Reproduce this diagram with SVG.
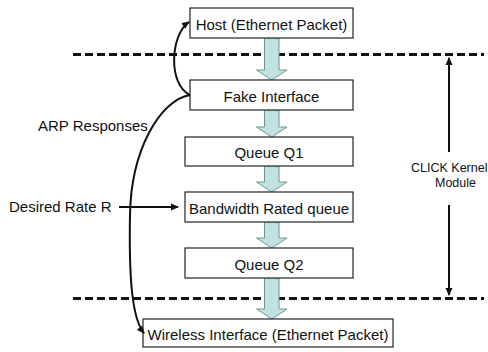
<svg xmlns="http://www.w3.org/2000/svg" width="488" height="352" viewBox="0 0 488 352">
  <defs>
    <style>
      .box { fill: #ffffff; stroke: #222222; stroke-width: 1.2; }
      .lbl { font-family: "Liberation Sans", Arial, sans-serif; font-size: 15px; fill: #111111; }
      .small { font-size: 12.5px; }
      .mid { text-anchor: middle; }
      .flow { fill: #c2e1e0; stroke: #6c9795; stroke-width: 1; }
      .dash { stroke: #111111; stroke-width: 3; stroke-dasharray: 8 4; fill: none; }
      .wire { stroke: #111111; stroke-width: 2; fill: none; }
    </style>
    <marker id="head" markerWidth="8" markerHeight="8" refX="7" refY="4" orient="auto" markerUnits="userSpaceOnUse">
      <path d="M0,0.5 L8,4 L0,7.5 Z" fill="#111111"/>
    </marker>
  </defs>

  <!-- kernel boundaries -->
  <line class="dash" x1="73" y1="54.5" x2="484" y2="54.5"/>
  <line class="dash" x1="73" y1="298.5" x2="484" y2="298.5"/>

  <!-- packet flow block arrows -->
  <g id="flow-arrows">
    <path class="flow" d="M264.5,38 H279 V70 H287 L271.75,80 L256.5,70 H264.5 Z"/>
    <path class="flow" d="M264.5,110 H279 V127 H287 L271.75,137 L256.5,127 H264.5 Z"/>
    <path class="flow" d="M264.5,166 H279 V182 H287 L271.75,192 L256.5,182 H264.5 Z"/>
    <path class="flow" d="M264.5,222 H279 V238 H287 L271.75,248 L256.5,238 H264.5 Z"/>
    <path class="flow" d="M264.5,278 H279 V309 H287 L271.75,319 L256.5,309 H264.5 Z"/>
  </g>

  <g id="host">
    <rect class="box" x="190" y="8" width="163" height="30"/>
    <text class="lbl mid" x="271.5" y="29.5">Host (Ethernet Packet)</text>
  </g>
  <g id="fake-interface">
    <rect class="box" x="190" y="80" width="163" height="30"/>
    <text class="lbl mid" x="271.5" y="101.5">Fake Interface</text>
  </g>
  <g id="queue-q1">
    <rect class="box" x="185" y="137" width="168" height="29"/>
    <text class="lbl mid" x="269" y="157.5">Queue Q1</text>
  </g>
  <g id="bandwidth-queue">
    <rect class="box" x="185" y="192" width="168" height="30"/>
    <text class="lbl mid" x="269" y="213.5">Bandwidth Rated queue</text>
  </g>
  <g id="queue-q2">
    <rect class="box" x="185" y="248" width="168" height="30"/>
    <text class="lbl mid" x="269" y="269.5">Queue Q2</text>
  </g>
  <g id="wireless-interface">
    <rect class="box" x="143" y="319" width="250" height="28"/>
    <text class="lbl mid" x="268" y="339.5">Wireless Interface (Ethernet Packet)</text>
  </g>

  <g id="arp-label">
    <text class="lbl" x="38" y="131">ARP Responses</text>
  </g>
  <g id="rate-label">
    <text class="lbl" x="9" y="212">Desired Rate R</text>
  </g>
  <g id="click-label">
    <text class="lbl small" x="411" y="172">CLICK Kernel</text>
    <text class="lbl small mid" x="455.5" y="187">Module</text>
  </g>

  <!-- connectors -->
  <g id="connectors">
    <path class="wire" d="M190,95 C168,85 170,35 189,22" marker-end="url(#head)"/>
    <path class="wire" d="M190,95 C160,100 131,150 130,215 C129,270 131,318 144,333" marker-end="url(#head)"/>
    <line class="wire" x1="119" y1="207" x2="178" y2="207" marker-end="url(#head)"/>
    <line class="wire" x1="449" y1="152" x2="449" y2="58" stroke-width="2.4" marker-end="url(#head)"/>
    <line class="wire" x1="449" y1="205" x2="449" y2="295" stroke-width="2.4" marker-end="url(#head)"/>
  </g>
</svg>
